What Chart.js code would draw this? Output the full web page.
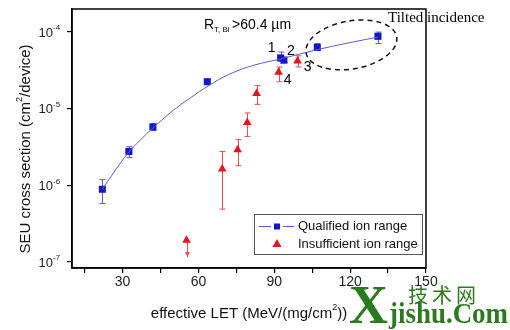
<!DOCTYPE html>
<html>
<head>
<meta charset="utf-8">
<script src="https://cdn.jsdelivr.net/npm/chart.js@4.4.0/dist/chart.umd.min.js"></script>
<style>
  html, body { margin: 0; padding: 0; background: #fff; }
  #wrap { width: 510px; height: 330px; position: relative; }
</style>
</head>
<body>
<div id="wrap"><canvas id="seu-chart" width="510" height="330"></canvas></div>
<script>
// --- Dane ---
const qualifiedLet = [22, 32.5, 42, 63.5, 92.5, 93.8, 107, 131];
const qualifiedSigma = [0.89e-6, 2.77e-6, 5.8e-6, 2.25e-5, 4.6e-5, 4.3e-5, 6.3e-5, 8.8e-5];
const qualifiedLow = [0.58e-6, 2.3e-6, 5.2e-6, 2.1e-5, 4.2e-5, 4.0e-5, 5.8e-5, 7.1e-5];
const qualifiedHigh = [1.19e-6, 3.2e-6, 6.3e-6, 2.4e-5, 5.5e-5, 4.7e-5, 7.1e-5, 1.0e-4];

const insufficientLet = [55.3, 69.4, 75.5, 79.3, 83, 91.7, 99.2];
const insufficientSigma = [1.92e-7, 1.64e-6, 2.92e-6, 6.6e-6, 1.58e-5, 3.0e-5, 4.2e-5];
const insufficientLow = [1.16e-7, 4.9e-7, 1.8e-6, 4.35e-6, 1.14e-5, 2.25e-5, 3.5e-5];
const insufficientHigh = [1.92e-7, 2.77e-6, 3.95e-6, 8.8e-6, 2.0e-5, 3.5e-5, 4.9e-5];
const insufficientArrow = [true, false, false, false, false, false, false];

// dopasowana krzywa
const fitLet = [22, 27, 32, 37, 42, 50, 57, 64, 72, 82, 93, 107, 120, 131];
const fitSigma = [0.89e-6, 1.55e-6, 2.6e-6, 3.9e-6, 5.6e-6, 9.5e-6, 1.4e-5, 2.0e-5, 2.8e-5, 3.7e-5, 4.5e-5, 5.9e-5, 7.3e-5, 8.6e-5];

const xTickValues = [15, 30, 45, 60, 75, 90, 105, 120, 135, 150];
const xTickLabels = ['', '30', '', '60', '', '90', '', '120', '', '150'];
const yTickValues = [1e-7, 1e-6, 1e-5, 1e-4];
const yTickExponents = ['-7', '-6', '-5', '-4'];

// etykiety punktow: [zbior, indeks, tekst, dx, dy]
const pointLabels = [
    ['q', 4, '1', -9, -10],
    ['q', 5, '2', 7, -9],
    ['i', 6, '3', 10, 6],
    ['i', 5, '4', 9, 8]
];

const BLUE = '#1414cc';
const BLUE_LINE = '#5a5ad6';
const RED = '#e8141c';
const RED_ERR = '#e45050';
const SANS = '"Liberation Sans", Arial, sans-serif';
const SERIF = '"Liberation Serif", "Times New Roman", serif';

function toPoints(xs, ys) {
    return xs.map((x, i) => ({ x, y: ys[i] }));
}

// --- Slupki bledow ---
const errorBarsPlugin = {
    id: 'errorBars',
    beforeDatasetsDraw(chart) {
        const { ctx, scales: { x, y } } = chart;
        const groups = [
            { xs: qualifiedLet, lo: qualifiedLow, hi: qualifiedHigh, color: BLUE_LINE, arrow: [] },
            { xs: insufficientLet, lo: insufficientLow, hi: insufficientHigh, color: RED_ERR, arrow: insufficientArrow }
        ];
        ctx.save();
        ctx.lineWidth = 1;
        groups.forEach(g => {
            ctx.strokeStyle = g.color;
            ctx.fillStyle = g.color;
            g.xs.forEach((v, i) => {
                const px = Math.round(x.getPixelForValue(v)) + 0.5;
                const top = y.getPixelForValue(g.hi[i]);
                const bot = y.getPixelForValue(g.lo[i]);
                ctx.beginPath();
                ctx.moveTo(px, top);
                ctx.lineTo(px, bot);
                if (!g.arrow[i]) {
                    ctx.moveTo(px - 3, top);
                    ctx.lineTo(px + 3, top);
                }
                if (g.arrow[i]) {
                    ctx.stroke();
                    ctx.beginPath();
                    ctx.moveTo(px - 2.5, bot - 5);
                    ctx.lineTo(px + 2.5, bot - 5);
                    ctx.lineTo(px, bot);
                    ctx.closePath();
                    ctx.fill();
                } else {
                    ctx.moveTo(px - 3, bot);
                    ctx.lineTo(px + 3, bot);
                    ctx.stroke();
                }
            });
        });
        ctx.restore();
    }
};

// --- Opisy, legenda, ramka ---
const decorPlugin = {
    id: 'decor',
    afterDraw(chart) {
        const { ctx, chartArea: a, scales: { x, y } } = chart;
        ctx.save();

        // ramka wykresu
        ctx.strokeStyle = '#000';
        ctx.lineWidth = 1.5;
        ctx.strokeRect(a.left, a.top, a.right - a.left, a.bottom - a.top);

        // etykiety osi Y: 10^n
        ctx.fillStyle = '#222';
        ctx.textBaseline = 'middle';
        yTickValues.forEach((v, i) => {
            const py = y.getPixelForValue(v);
            ctx.font = '13px ' + SANS;
            ctx.textAlign = 'right';
            ctx.fillText('10', 53, py + 1);
            ctx.font = '8px ' + SANS;
            ctx.textAlign = 'left';
            ctx.fillText(yTickExponents[i], 53, py - 4);
        });

        // tytul osi Y
        ctx.save();
        ctx.translate(26, 149);
        ctx.rotate(-Math.PI / 2);
        ctx.font = '15px ' + SANS;
        ctx.fillStyle = '#111';
        ctx.textAlign = 'left';
        let t1 = 'SEU cross section (cm';
        let t2 = '/device)';
        let w1 = ctx.measureText(t1).width;
        ctx.font = '9px ' + SANS;
        let ws = ctx.measureText('2').width;
        ctx.font = '15px ' + SANS;
        let w2 = ctx.measureText(t2).width;
        let sx = -(w1 + ws + w2) / 2;
        ctx.fillText(t1, sx, 0);
        ctx.font = '9px ' + SANS;
        ctx.fillText('2', sx + w1, -6);
        ctx.font = '15px ' + SANS;
        ctx.fillText(t2, sx + w1 + ws, 0);
        ctx.restore();

        // tytul osi X
        ctx.font = '15px ' + SANS;
        ctx.fillStyle = '#111';
        ctx.textAlign = 'left';
        t1 = 'effective LET (MeV/(mg/cm';
        t2 = '))';
        w1 = ctx.measureText(t1).width;
        w2 = ctx.measureText(t2).width;
        ctx.font = '9px ' + SANS;
        ws = ctx.measureText('2').width;
        sx = 249 - (w1 + ws + w2) / 2;
        ctx.font = '15px ' + SANS;
        ctx.fillText(t1, sx, 314);
        ctx.font = '9px ' + SANS;
        ctx.fillText('2', sx + w1, 308);
        ctx.font = '15px ' + SANS;
        ctx.fillText(t2, sx + w1 + ws, 314);

        // R_T,Bi > 60.4 um
        ctx.fillStyle = '#000';
        ctx.font = '14px ' + SANS;
        ctx.fillText('R', 204, 25);
        ctx.font = '8px ' + SANS;
        ctx.fillText('T, Bi', 214, 30);
        ctx.font = '14px ' + SANS;
        ctx.fillText('>60.4 \u00b5m', 232, 25);

        // etykiety punktow 1-4
        ctx.font = '14px ' + SANS;
        ctx.textAlign = 'center';
        pointLabels.forEach(([set, idx, txt, dx, dy]) => {
            const xs = set === 'q' ? qualifiedLet : insufficientLet;
            const ys = set === 'q' ? qualifiedSigma : insufficientSigma;
            ctx.fillText(txt, x.getPixelForValue(xs[idx]) + dx, y.getPixelForValue(ys[idx]) + dy);
        });

        // przerywana elipsa (padanie skosne)
        const cx = x.getPixelForValue(120.5);
        const cy = y.getPixelForValue(6.8e-5);
        ctx.beginPath();
        ctx.setLineDash([5, 4]);
        ctx.lineWidth = 1.5;
        ctx.strokeStyle = '#111';
        ctx.ellipse(cx, cy, 46, 24, -10 * Math.PI / 180, 0, 2 * Math.PI);
        ctx.stroke();
        ctx.setLineDash([]);

        ctx.font = '15px ' + SERIF;
        ctx.textAlign = 'left';
        ctx.fillStyle = '#000';
        ctx.fillText('Tilted incidence', 388, 18);

        // legenda
        const lx = 254, ly = 214, lw = 168, lh = 40;
        ctx.fillStyle = '#fff';
        ctx.fillRect(lx, ly, lw, lh);
        ctx.strokeStyle = '#555';
        ctx.lineWidth = 1;
        ctx.strokeRect(lx + 0.5, ly + 0.5, lw, lh);
        const r1 = 226.5, r2 = 244;
        ctx.strokeStyle = BLUE_LINE;
        ctx.beginPath();
        ctx.moveTo(259, r1); ctx.lineTo(271, r1);
        ctx.moveTo(283, r1); ctx.lineTo(294, r1);
        ctx.stroke();
        ctx.fillStyle = BLUE;
        ctx.fillRect(274, r1 - 3, 6, 6);
        ctx.fillStyle = RED;
        ctx.beginPath();
        ctx.moveTo(277, r2 - 5);
        ctx.lineTo(281.5, r2 + 3);
        ctx.lineTo(272.5, r2 + 3);
        ctx.closePath();
        ctx.fill();
        ctx.fillStyle = '#111';
        ctx.font = '13px ' + SANS;
        ctx.textBaseline = 'middle';
        ctx.fillText('Qualified ion range', 298, r1);
        ctx.fillText('Insufficient ion range', 298, r2);

        // znak wodny
        ctx.fillStyle = '#2b7a1e';
        ctx.textBaseline = 'alphabetic';
        ctx.font = 'bold 54px ' + SERIF;
        ctx.fillText('X', 349, 323);
        ctx.font = 'bold 29px ' + SERIF;
        const wm = 'jishu.Com';
        const wmW = ctx.measureText(wm).width;
        ctx.save();
        ctx.translate(389, 323);
        ctx.scale(119 / wmW, 1);
        ctx.fillText(wm, 0, 0);
        ctx.restore();
        ctx.font = '20px "Noto Sans CJK SC", sans-serif';
        ['\u6280', '\u672f', '\u7f51'].forEach((ch, i) => {
            ctx.fillText(ch, 408 + i * 24, 303);
        });

        ctx.restore();
    }
};

new Chart(document.getElementById('seu-chart'), {
    type: 'scatter',
    data: {
        datasets: [
            {
                label: 'fit',
                data: toPoints(fitLet, fitSigma),
                showLine: true,
                borderColor: BLUE_LINE,
                borderWidth: 1,
                pointRadius: 0,
                cubicInterpolationMode: 'monotone'
            },
            {
                label: 'Qualified ion range',
                data: toPoints(qualifiedLet, qualifiedSigma),
                pointStyle: 'rect',
                pointRadius: 5,
                backgroundColor: BLUE,
                borderColor: BLUE,
                borderWidth: 0
            },
            {
                label: 'Insufficient ion range',
                data: toPoints(insufficientLet, insufficientSigma),
                pointStyle: 'triangle',
                pointRadius: 5,
                backgroundColor: RED,
                borderColor: RED,
                borderWidth: 0
            }
        ]
    },
    options: {
        responsive: false,
        animation: false,
        events: [],
        layout: { padding: { top: 9, right: 84, left: 0, bottom: 0 } },
        plugins: { legend: { display: false }, tooltip: { enabled: false } },
        scales: {
            x: {
                type: 'linear',
                min: 10,
                max: 150,
                afterBuildTicks: scale => { scale.ticks = xTickValues.map(v => ({ value: v })); },
                afterFit: scale => { scale.height = 62; },
                ticks: {
                    autoSkip: false,
                    maxRotation: 0,
                    color: '#222',
                    font: { family: SANS, size: 14 },
                    padding: 1,
                    callback: (v, i) => xTickLabels[i]
                },
                grid: { drawOnChartArea: false, drawTicks: true, tickLength: 5, color: '#000', lineWidth: 1.2 },
                border: { display: true, color: '#000', width: 1.5 }
            },
            y: {
                type: 'logarithmic',
                min: 8.35e-8,
                max: 2.0e-4,
                afterBuildTicks: scale => { scale.ticks = yTickValues.map(v => ({ value: v })); },
                afterFit: scale => { scale.width = 72; },
                ticks: { display: false },
                grid: { drawOnChartArea: false, drawTicks: true, tickLength: 5, color: '#000', lineWidth: 1.2 },
                border: { display: true, color: '#000', width: 1.5 }
            }
        }
    },
    plugins: [errorBarsPlugin, decorPlugin]
});
</script>
</body>
</html>
